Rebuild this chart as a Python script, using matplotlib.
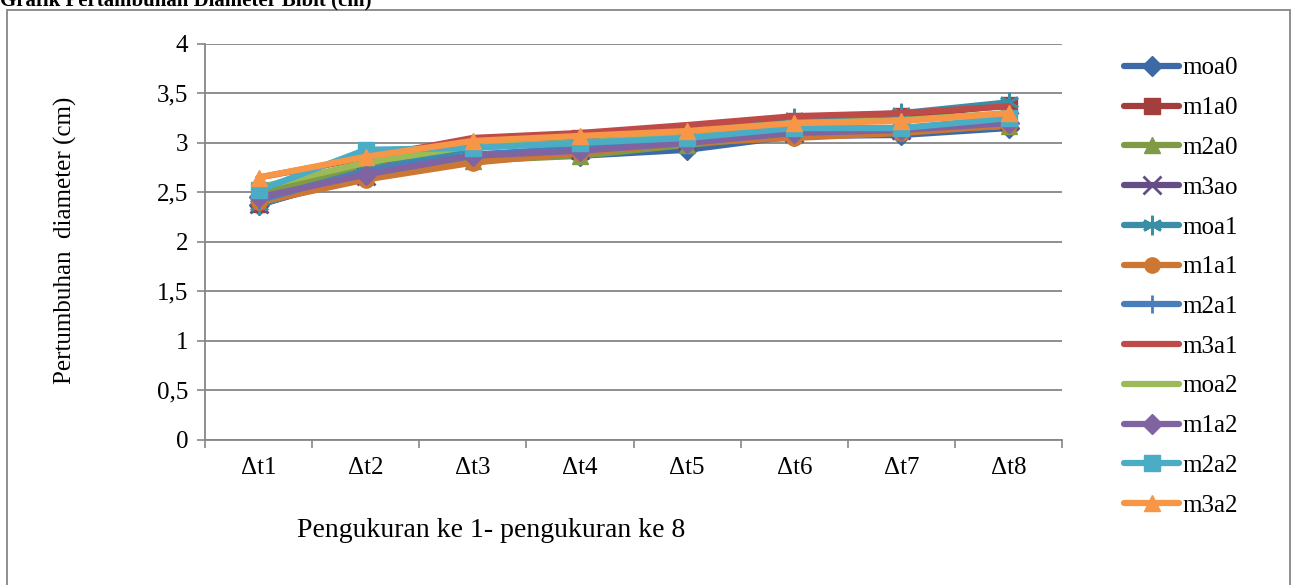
import matplotlib
matplotlib.use('Agg')
import matplotlib.pyplot as plt
from matplotlib.patches import Rectangle

plt.rcParams['font.family'] = ['Liberation Serif', 'DejaVu Serif']

# data
categories = ['Δt1', 'Δt2', 'Δt3', 'Δt4', 'Δt5', 'Δt6', 'Δt7', 'Δt8']
moa0 = [2.37, 2.70, 2.85, 2.87, 2.93, 3.07, 3.08, 3.15]
m1a0 = [2.38, 2.78, 2.97, 3.05, 3.12, 3.22, 3.27, 3.38]
m2a0 = [2.50, 2.75, 2.82, 2.87, 2.98, 3.08, 3.12, 3.17]
m3ao = [2.38, 2.67, 2.88, 2.93, 3.02, 3.10, 3.13, 3.22]
moa1 = [2.37, 2.72, 2.95, 3.02, 3.08, 3.25, 3.30, 3.41]
m1a1 = [2.40, 2.63, 2.80, 2.90, 3.00, 3.05, 3.10, 3.18]
m2a1 = [2.42, 2.72, 2.88, 2.95, 3.03, 3.12, 3.15, 3.22]
m3a1 = [2.65, 2.85, 3.05, 3.10, 3.18, 3.27, 3.30, 3.37]
moa2 = [2.55, 2.80, 2.97, 3.00, 3.08, 3.20, 3.23, 3.30]
m1a2 = [2.45, 2.68, 2.87, 2.92, 3.00, 3.10, 3.13, 3.20]
m2a2 = [2.52, 2.93, 2.95, 3.00, 3.05, 3.15, 3.15, 3.25]
m3a2 = [2.65, 2.86, 3.02, 3.07, 3.12, 3.20, 3.22, 3.30]

series = [
    ('moa0', moa0, '#3D6AA6', 'D'),
    ('m1a0', m1a0, '#A23F3C', 's'),
    ('m2a0', m2a0, '#7F9B45', '^'),
    ('m3ao', m3ao, '#654D86', 'x'),
    ('moa1', moa1, '#3A8EA5', '*'),
    ('m1a1', m1a1, '#CC7733', 'o'),
    ('m2a1', m2a1, '#4A7EBB', '|'),
    ('m3a1', m3a1, '#BE4B48', None),
    ('moa2', moa2, '#9BBB59', None),
    ('m1a2', m1a2, '#8064A2', 'D'),
    ('m2a2', m2a2, '#4BACC6', 's'),
    ('m3a2', m3a2, '#F79646', '^'),
]

fig = plt.figure(figsize=(12.97, 5.85), dpi=100)
ax = fig.add_axes([0.158, 0.248, 0.661, 0.677])

x = list(range(len(categories)))
for name, vals, col, mk in series:
    kw = dict(color=col, lw=4.5, label=name, solid_capstyle='round')
    if mk == '*':
        # asterisk: x plus a vertical stroke
        ax.plot(x, vals, marker=(6, 2, 0), ms=14, mew=2, mec=col, **kw)
    elif mk in ('x', '|'):
        ax.plot(x, vals, marker=mk, ms=13, mew=2, mec=col, **kw)
    elif mk:
        ax.plot(x, vals, marker=mk, ms=11 if mk != 'D' else 10, mec=col, mfc=col, **kw)
    else:
        ax.plot(x, vals, **kw)

ax.set_xlim(-0.5, 7.5)
ax.set_ylim(0, 4)
ax.set_yticks([0, 0.5, 1, 1.5, 2, 2.5, 3, 3.5, 4])
ax.set_yticklabels(['0', '0,5', '1', '1,5', '2', '2,5', '3', '3,5', '4'], fontsize=18)
ax.set_xticks(x)
ax.set_xticklabels(categories, fontsize=18)
ax.set_xticks([i - 0.5 for i in range(9)], minor=True)
ax.tick_params(axis='x', which='major', length=0, pad=12)
ax.tick_params(axis='x', which='minor', length=6, color='#868686', width=1.2)
ax.tick_params(axis='y', length=6, color='#868686', width=1.2, pad=6)
ax.grid(axis='y', color='#868686', lw=1.3)
ax.set_axisbelow(True)
for s in ['top', 'right']:
    ax.spines[s].set_visible(False)
for s in ['left', 'bottom']:
    ax.spines[s].set_color('#868686')
    ax.spines[s].set_linewidth(1.3)

fig.text(65 / 1297, 1 - 240 / 585, 'Pertumbuhan  diameter (cm)', fontsize=18,
         rotation=90, ha='center', va='center')
fig.text(297 / 1297, 1 - 537 / 585, 'Pengukuran ke 1- pengukuran ke 8', fontsize=20,
         ha='left', va='baseline')

leg = fig.legend(loc='upper left', bbox_to_anchor=(1124 / 1297, 1 - 57 / 585), frameon=False,
                 fontsize=18, handlelength=2.2, handletextpad=0.12,
                 labelspacing=0.69, borderaxespad=0, borderpad=0)

# outer chart frame and clipped title
fig.patches.append(Rectangle((7 / 1297, -0.05), 1283 / 1297, 1.05 - 10 / 585,
                             transform=fig.transFigure, fill=False,
                             edgecolor='#868686', lw=1.3))
fig.text(0.0, 1 - 5 / 585, 'Grafik Pertambuhan Diameter Bibit (cm)',
         fontsize=15, fontweight='bold', ha='left', va='baseline')

fig.savefig('out.png', dpi=100)
